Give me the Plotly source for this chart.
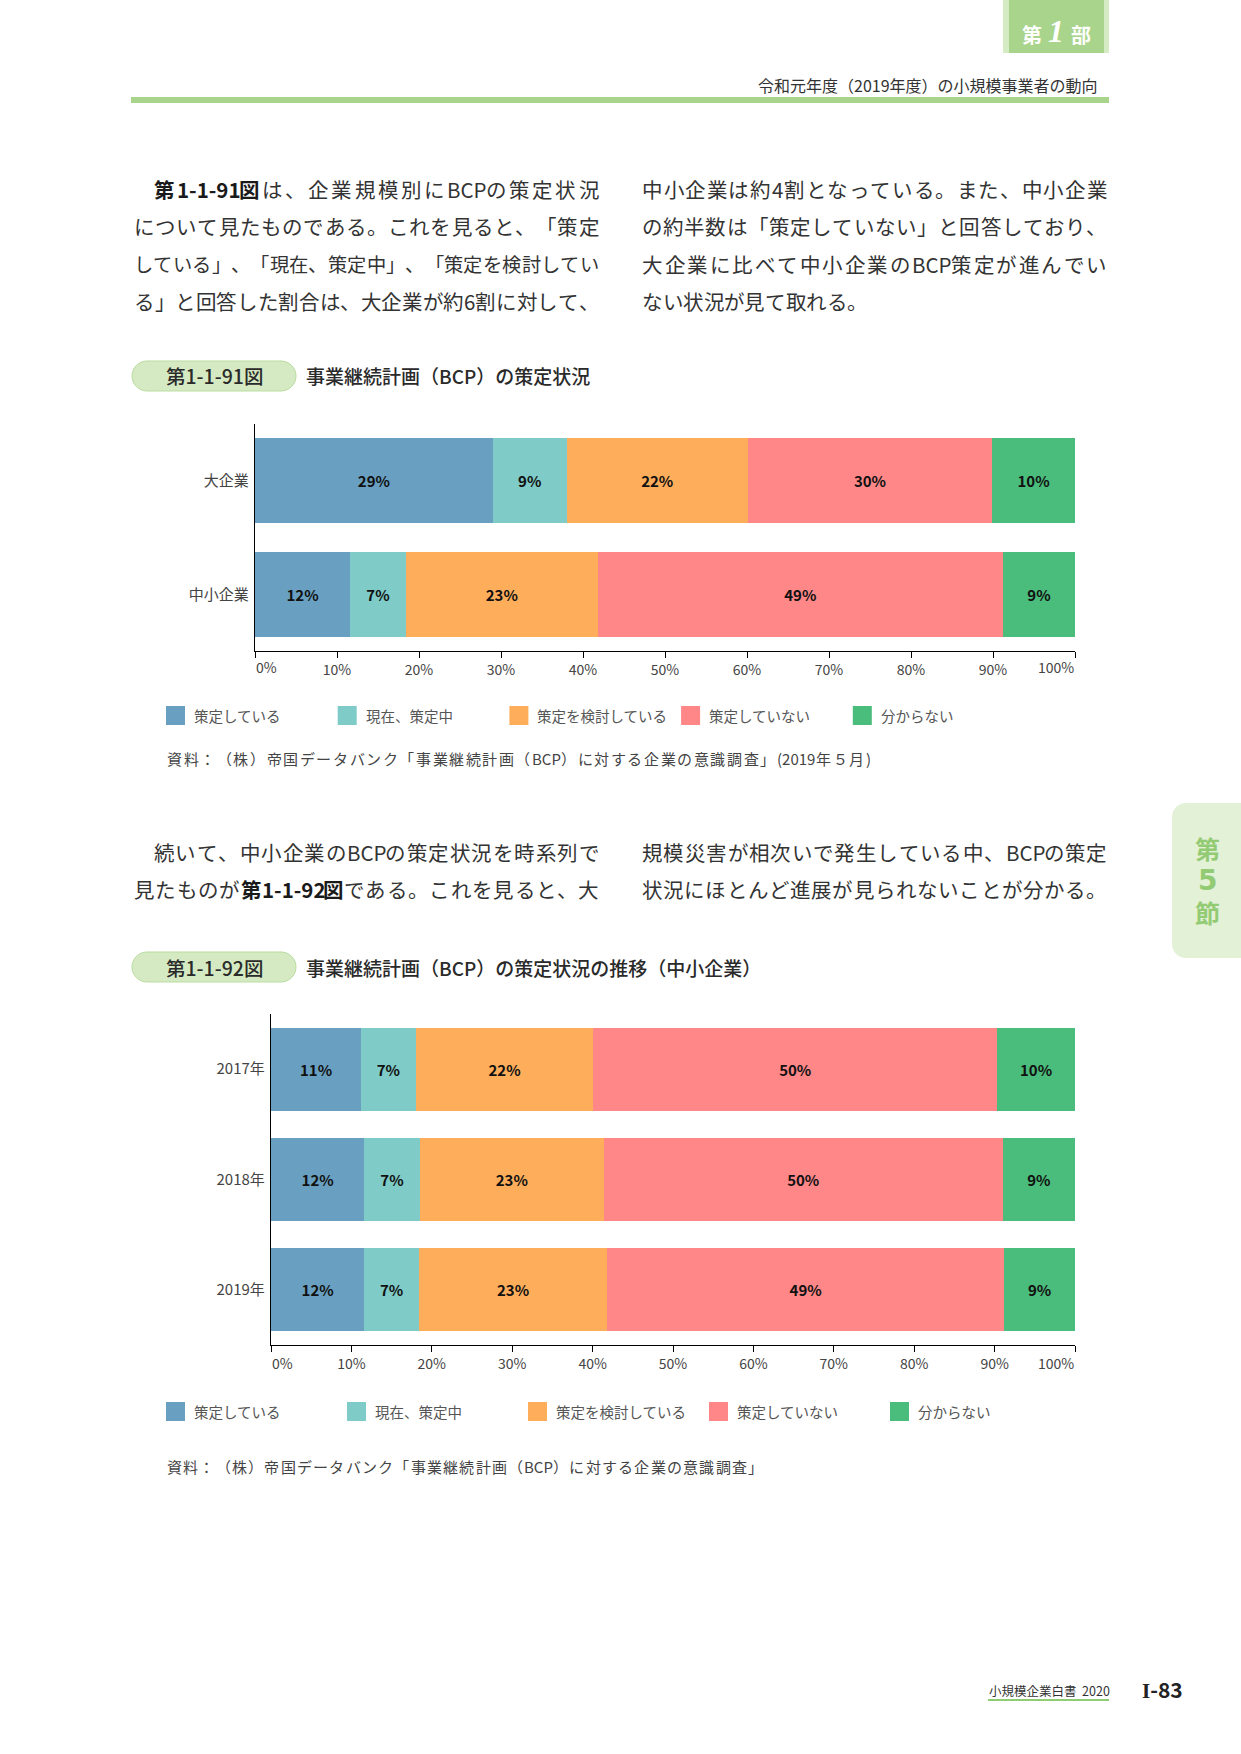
import plotly.graph_objects as go

W, H = 1241, 1754
FONT = "Noto Sans CJK JP"

# ---------------- data ----------------
series_names = ["策定している", "現在、策定中", "策定を検討している", "策定していない", "分からない"]
series_colors = ["#69a0c1", "#7ecbc7", "#fead5b", "#ff8788", "#4abc7b"]

chart1_categories = ["大企業", "中小企業"]
chart1_planned = [29.0, 11.6]
chart1_in_progress = [9.0, 6.8]
chart1_considering = [22.1, 23.4]
chart1_not_planned = [29.8, 49.4]
chart1_unknown = [10.1, 8.8]

chart2_categories = ["2017年", "2018年", "2019年"]
chart2_planned = [11.2, 11.6, 11.6]
chart2_in_progress = [6.8, 6.9, 6.8]
chart2_considering = [22.1, 22.9, 23.4]
chart2_not_planned = [50.2, 49.6, 49.4]
chart2_unknown = [9.7, 9.0, 8.8]

tick_values = [0, 10, 20, 30, 40, 50, 60, 70, 80, 90, 100]
tick_labels = ["0%", "10%", "20%", "30%", "40%", "50%", "60%", "70%", "80%", "90%", "100%"]

header_text = "令和元年度（2019年度）の小規模事業者の動向"
para1_left = ["*第1-1-91図*は、企業規模別にBCPの策定状況",
              "について見たものである。これを見ると、「策定",
              "している」、「現在、策定中」、「策定を検討してい",
              "る」と回答した割合は、大企業が約6割に対して、"]
para1_right = ["中小企業は約4割となっている。また、中小企業",
               "の約半数は「策定していない」と回答しており、",
               "大企業に比べて中小企業のBCP策定が進んでい",
               "ない状況が見て取れる。"]
para2_left = ["続いて、中小企業のBCPの策定状況を時系列で",
              "見たものが*第1-1-92図*である。これを見ると、大"]
para2_right = ["規模災害が相次いで発生している中、BCPの策定",
               "状況にほとんど進展が見られないことが分かる。"]
fig1_label = "第1-1-91図"
fig1_title = "事業継続計画（BCP）の策定状況"
fig2_label = "第1-1-92図"
fig2_title = "事業継続計画（BCP）の策定状況の推移（中小企業）"
source1 = "資料：（株）帝国データバンク「事業継続計画（BCP）に対する企業の意識調査」(2019年５月)"
source2 = "資料：（株）帝国データバンク「事業継続計画（BCP）に対する企業の意識調査」"
footer_text = "小規模企業白書  2020"
page_number = '<span style="font-family:Liberation Serif">I</span>-83'

# ---------------- helpers ----------------
annotations = []
shapes = []


def px(x):
    return x / W


def py(y):
    return 1 - y / H


def ann(text, x, y, size, color="#333", xanchor="left", yanchor="middle",
        weight="normal", family=FONT, style="normal", xref="paper"):
    annotations.append(dict(
        text=text, x=(px(x) if xref == "paper" else x), y=py(y), xref=xref, yref="paper",
        xanchor=xanchor, yanchor=yanchor, showarrow=False, borderpad=0,
        font=dict(family=family, size=size, color=color, weight=weight, style=style)))


def rect(x0, y0, x1, y1, color, line_color=None, lw=0):
    shapes.append(dict(type="rect", xref="paper", yref="paper",
                       x0=px(x0), x1=px(x1), y0=py(y1), y1=py(y0),
                       fillcolor=color, line=dict(width=lw, color=line_color or color)))


def rounded(x0, y0, x1, y1, r, color, line_color=None, lw=0):
    k = 0.5523 * r

    def p(x, y):
        return f"{px(x):.6f},{py(y):.6f}"
    path = (f"M{p(x0 + r, y0)} L{p(x1 - r, y0)} "
            f"C{p(x1 - r + k, y0)} {p(x1, y0 + r - k)} {p(x1, y0 + r)} "
            f"L{p(x1, y1 - r)} C{p(x1, y1 - r + k)} {p(x1 - r + k, y1)} {p(x1 - r, y1)} "
            f"L{p(x0 + r, y1)} C{p(x0 + r - k, y1)} {p(x0, y1 - r + k)} {p(x0, y1 - r)} "
            f"L{p(x0, y0 + r)} C{p(x0, y0 + r - k)} {p(x0 + r - k, y0)} {p(x0 + r, y0)} Z")
    shapes.append(dict(type="path", xref="paper", yref="paper", path=path,
                       fillcolor=color, line=dict(width=lw, color=line_color or color)))


LAT_W = {"0": 0.55, "1": 0.55, "2": 0.55, "3": 0.55, "4": 0.55, "5": 0.55, "6": 0.55,
         "7": 0.55, "8": 0.55, "9": 0.55, "-": 0.36, "B": 0.62, "C": 0.6, "P": 0.6,
         "(": 0.33, ")": 0.33, " ": 0.25}


def text_line(s, x0, x1, yc, size, color="#333", justify=True, bold_color="#1a1a1a"):
    # split into tokens: each CJK glyph alone, Latin runs grouped; '*' toggles bold
    raw = []
    state = {"bold": False, "buf": ""}

    def flush():
        if state["buf"]:
            raw.append(("lat", state["buf"], state["bold"]))
            state["buf"] = ""
    for ch in s:
        if ch == "*":
            flush()
            state["bold"] = not state["bold"]
            continue
        if ord(ch) < 0x2000:
            state["buf"] += ch
        else:
            flush()
            raw.append(("cjk", ch, state["bold"]))
    flush()

    def widths(sz):
        return [(sum(LAT_W.get(c, 0.55) for c in t) if k == "lat" else 1.0) * sz
                for k, t, b in raw]
    avail = x1 - x0
    w = widths(size)
    if sum(w) > avail:  # shrink this line so that glyph boxes never overlap
        size = size * avail / sum(w) * 0.995
        w = widths(size)
    gaps = max(len(raw) - 1, 1)
    slack = (avail - sum(w)) / gaps if justify else 0
    x = x0
    for (k, t, b), wi in zip(raw, w):
        ann(t, x, yc, size, color=(bold_color if b else color),
            weight=("bold" if b else "normal"))
        x += wi + slack


# ---------------- page decorations ----------------
rect(1003, -2, 1109, 53, "#d4ebc4")
rect(1009, -2, 1104, 53, "#a9d48b")
ann("第", 1032, 34, 20, color="white", xanchor="center", weight="bold")
ann("1", 1056, 31, 32, color="white", xanchor="center", weight="bold",
    family="Liberation Serif", style="italic")
ann("部", 1081, 35, 20, color="white", xanchor="center", weight="bold")
ann(header_text, 1099, 85, 16, color="#333", xanchor="right")
rect(131, 97, 1109, 103, "#a9d48b")
rounded(1172, 803, 1262, 958, 14, "#e3f1d6")
ann("第", 1207, 848, 25, color="#93cb74", xanchor="center", weight="bold")
ann("5", 1207, 880, 28, color="#93cb74", xanchor="center", weight="bold", family="DejaVu Sans")
ann("節", 1207, 912, 25, color="#93cb74", xanchor="center", weight="bold")
ann(footer_text, 988, 1690, 12.5, color="#333")
rect(988, 1699, 1109, 1701, "#8fcd72")
ann(page_number, 1141, 1689, 21, color="#222", weight="bold")

# ---------------- body text ----------------
BODY = 20.5
para1_y = [189, 226, 264, 301]
for i, line in enumerate(para1_left):
    text_line(line, 153 if i == 0 else 133, 598, para1_y[i], BODY)
for i, line in enumerate(para1_right):
    text_line(line, 641, 1106, para1_y[i], BODY, justify=(i < 3))
para2_y = [852, 889]
for i, line in enumerate(para2_left):
    text_line(line, 153 if i == 0 else 133, 598, para2_y[i], BODY)
for i, line in enumerate(para2_right):
    text_line(line, 641, 1106, para2_y[i], BODY)

for (lbl, ttl, yc) in [(fig1_label, fig1_title, 376), (fig2_label, fig2_title, 967)]:
    rounded(132, yc - 15, 296, yc + 15, 15, "#d5eac3", line_color="#b9dca0", lw=1)
    ann(lbl, 214, yc, 19.5, color="#2a2a2a", xanchor="center", weight=500)
    ann(ttl, 305, yc, 19, color="#2a2a2a", weight=500)

# ---------------- charts ----------------
fig = go.Figure()
c1 = [chart1_planned, chart1_in_progress, chart1_considering, chart1_not_planned, chart1_unknown]
c2 = [chart2_planned, chart2_in_progress, chart2_considering, chart2_not_planned, chart2_unknown]
for cats, data, xa, ya in [(chart1_categories, c1, "x", "y"), (chart2_categories, c2, "x2", "y2")]:
    for name, color, vals in zip(series_names, series_colors, data):
        fig.add_trace(go.Bar(
            y=cats, x=vals, orientation="h", name=name, width=0.75,
            marker=dict(color=color, line=dict(width=0)),
            text=[f"{round(v)}%" for v in vals], textposition="inside",
            insidetextanchor="middle", constraintext="none",
            insidetextfont=dict(family=FONT, size=15, color="#111", weight="bold"),
            xaxis=xa, yaxis=ya, showlegend=False, hoverinfo="skip"))

axis_common_x = dict(range=[0, 100], tickmode="array", tickvals=tick_values,
                     ticktext=[""] + tick_labels[1:-1] + [""],
                     ticks="outside", ticklen=6, tickwidth=1.3, tickcolor="#000",
                     showline=True, linewidth=1.3, linecolor="#000", showgrid=False,
                     zeroline=False, tickfont=dict(family=FONT, size=14, color="#444"),
                     fixedrange=True)
axis_common_y = dict(type="category", categoryorder="array", showline=True, linewidth=1.3,
                     linecolor="#000", ticks="", showgrid=False, zeroline=False,
                     tickfont=dict(family=FONT, size=15, color="#444"),
                     ticklabelstandoff=2, fixedrange=True)

for xa, yc in [("x", 667), ("x2", 1363)]:
    ann(tick_labels[0], tick_values[0], yc, 14, color="#444", xanchor="left", xref=xa)
    ann(tick_labels[-1], tick_values[-1], yc, 14, color="#444", xanchor="right", xref=xa)

for start, step, yc, src, src_y, src_end in [(166, 171.7, 715.5, source1, 758, 870),
                                             (166, 181, 1411.5, source2, 1466, 762)]:
    for i, (name, color) in enumerate(zip(series_names, series_colors)):
        x0 = start + i * step
        rect(x0, yc - 9.5, x0 + 19, yc + 9.5, color)
        ann(name, x0 + 27, yc, 14.5, color="#555")
    text_line(src, 166, src_end, src_y, 15, color="#444")

fig.update_layout(
    width=W, height=H, margin=dict(l=0, r=0, t=0, b=0, pad=0),
    paper_bgcolor="white", plot_bgcolor="white", barmode="stack", showlegend=False,
    font=dict(family=FONT, color="#333"),
    xaxis=dict(domain=[px(255), px(1075)], anchor="y", **axis_common_x),
    yaxis=dict(domain=[py(651), py(424)], anchor="x", categoryarray=chart1_categories,
               range=[1.5, -0.5], **axis_common_y),
    xaxis2=dict(domain=[px(271), px(1075)], anchor="y2", **axis_common_x),
    yaxis2=dict(domain=[py(1345), py(1014)], anchor="x2", categoryarray=chart2_categories,
                range=[2.5, -0.5], **axis_common_y),
    annotations=annotations, shapes=shapes,
)

fig.write_html("out.html")
